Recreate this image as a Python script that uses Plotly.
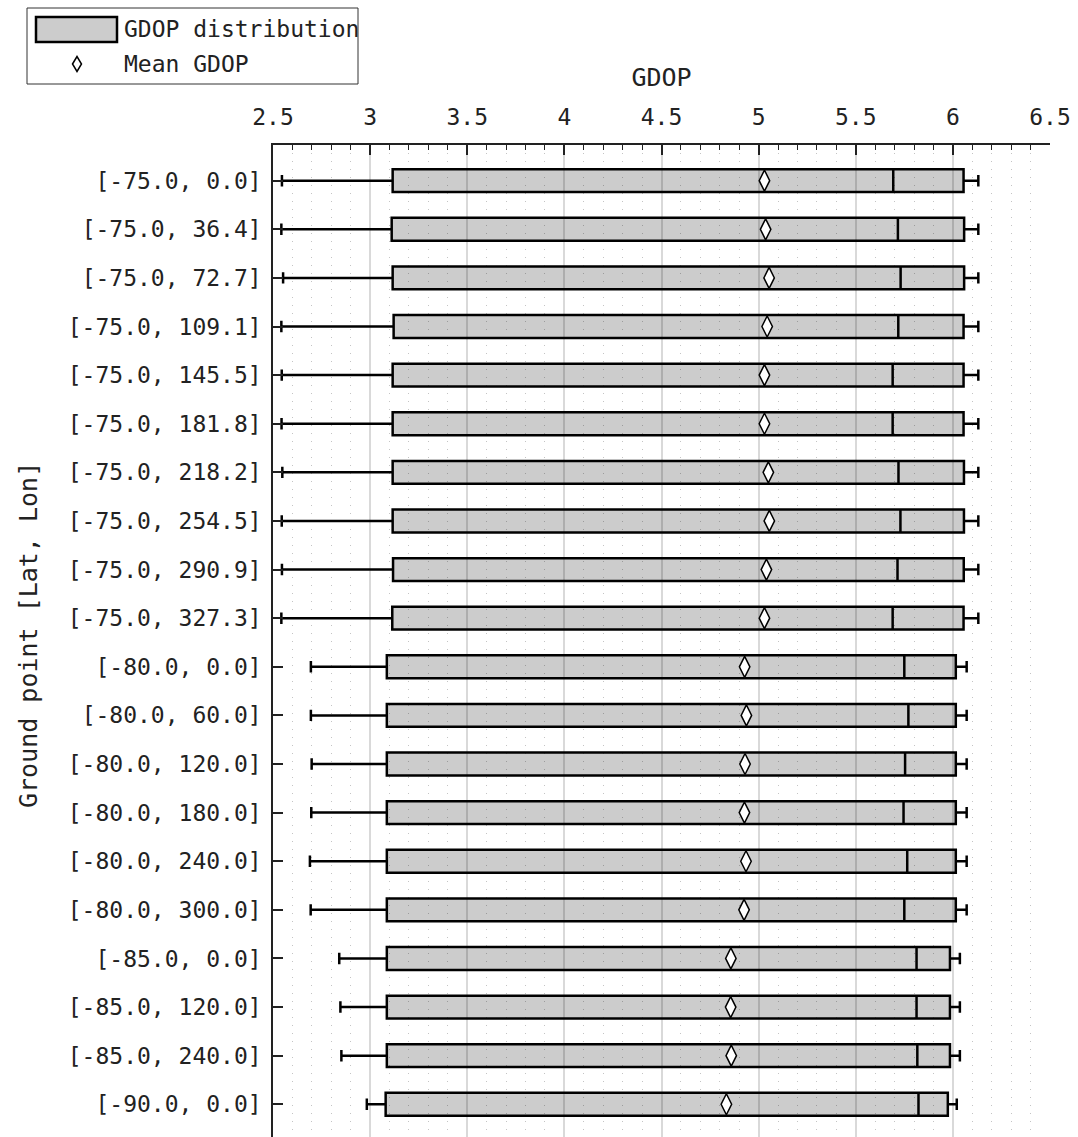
import plotly.graph_objects as go

labels = ["[-75.0, 0.0]", "[-75.0, 36.4]", "[-75.0, 72.7]", "[-75.0, 109.1]",
          "[-75.0, 145.5]", "[-75.0, 181.8]", "[-75.0, 218.2]", "[-75.0, 254.5]",
          "[-75.0, 290.9]", "[-75.0, 327.3]", "[-80.0, 0.0]", "[-80.0, 60.0]",
          "[-80.0, 120.0]", "[-80.0, 180.0]", "[-80.0, 240.0]", "[-80.0, 300.0]",
          "[-85.0, 0.0]", "[-85.0, 120.0]", "[-85.0, 240.0]", "[-90.0, 0.0]"]

gdop_min = [2.546, 2.543, 2.552, 2.543, 2.545, 2.544, 2.548, 2.545, 2.546, 2.543,
            2.695, 2.695, 2.699, 2.697, 2.690, 2.694, 2.841, 2.847, 2.852, 2.983]
gdop_q1 = [3.116, 3.111, 3.116, 3.121, 3.116, 3.116, 3.116, 3.116, 3.118, 3.114,
           3.086, 3.086, 3.086, 3.086, 3.086, 3.086, 3.086, 3.086, 3.086, 3.080]
gdop_median = [5.693, 5.717, 5.731, 5.719, 5.690, 5.690, 5.720, 5.730, 5.715, 5.690,
               5.750, 5.771, 5.754, 5.746, 5.765, 5.750, 5.813, 5.813, 5.817, 5.823]
gdop_q3 = [6.055, 6.058, 6.058, 6.055, 6.055, 6.055, 6.057, 6.057, 6.056, 6.055,
           6.015, 6.015, 6.015, 6.015, 6.015, 6.015, 5.985, 5.985, 5.985, 5.974]
gdop_max = [6.131, 6.131, 6.131, 6.131, 6.131, 6.131, 6.131, 6.131, 6.131, 6.131,
            6.071, 6.071, 6.071, 6.071, 6.071, 6.071, 6.036, 6.036, 6.036, 6.020]
gdop_mean = [5.030, 5.036, 5.054, 5.044, 5.030, 5.030, 5.050, 5.055, 5.040, 5.030,
             4.928, 4.937, 4.930, 4.927, 4.935, 4.925, 4.857, 4.856, 4.859, 4.834]

FONT = "DejaVu Sans Mono"
W, H = 1078, 1137
L, R, T, B = 273, 28, 145, 0
PW, PH = W - L - R, H - T - B


def xp(px):
    return (px - L) / PW


def yp(py):
    return (H - B - py) / PH


fig = go.Figure()

fig.add_trace(go.Box(
    y=labels, q1=gdop_q1, median=gdop_median, q3=gdop_q3,
    lowerfence=gdop_min, upperfence=gdop_max,
    orientation="h", boxpoints=False, width=0.47, whiskerwidth=0.5,
    fillcolor="rgba(0,0,0,0.2)", line=dict(color="black", width=2.5),
    name="GDOP distribution", showlegend=False, hoverinfo="x+y",
))

fig.add_trace(go.Scatter(
    x=gdop_mean, y=labels, mode="markers", name="Mean GDOP", showlegend=False,
    marker=dict(symbol="diamond-tall", size=15, color="white",
                line=dict(color="black", width=1.5)),
))

fig.update_layout(
    width=W, height=H,
    margin=dict(l=L, r=R, t=T, b=B, autoexpand=False),
    paper_bgcolor="white", plot_bgcolor="white",
    font=dict(family=FONT, size=23, color="#222"),
    showlegend=False,
    xaxis=dict(
        range=[2.5, 6.5], side="top", tick0=2.5, dtick=0.5,
        ticks="inside", ticklen=10, tickwidth=1.5, tickcolor="#222",
        showline=True, linecolor="#222", linewidth=1.5,
        showgrid=True, gridcolor="#d9d9d9", gridwidth=2,
        zeroline=False, tickfont=dict(size=23), ticklabelstandoff=9,
        title=dict(text="GDOP", font=dict(size=25), standoff=10),
        automargin=False,
        minor=dict(dtick=0.1, tick0=2.5, ticks="inside", ticklen=5, tickwidth=1,
                   tickcolor="#222", showgrid=True, gridcolor="#c4c4c4",
                   griddash="1px,7px", gridwidth=1),
    ),
    yaxis=dict(
        type="category", categoryorder="array", categoryarray=labels,
        range=[19.673, -0.734],
        ticks="inside", ticklen=10, tickwidth=1.5, tickcolor="#222",
        showline=True, linecolor="#222", linewidth=1.5,
        showgrid=False, zeroline=False, tickfont=dict(size=23),
        ticklabelstandoff=5, automargin=False,
    ),
    shapes=[
        dict(type="rect", xref="paper", yref="paper",
             x0=xp(27), x1=xp(358), y0=yp(84), y1=yp(8),
             line=dict(color="#333", width=1), fillcolor="white", layer="above"),
        dict(type="rect", xref="paper", yref="paper",
             x0=xp(36), x1=xp(117), y0=yp(42), y1=yp(17),
             line=dict(color="black", width=2.5), fillcolor="#cccccc", layer="above"),
        dict(type="path", xref="paper", yref="paper",
             path=f"M {xp(72.5)} {yp(64)} L {xp(77)} {yp(56.5)} L {xp(81.5)} {yp(64)} L {xp(77)} {yp(71.5)} Z",
             line=dict(color="black", width=1.5), fillcolor="white", layer="above"),
    ],
    annotations=[
        dict(text="GDOP distribution", xref="paper", yref="paper",
             x=xp(122), y=yp(29), xanchor="left", yanchor="middle",
             showarrow=False, font=dict(size=23)),
        dict(text="Mean GDOP", xref="paper", yref="paper",
             x=xp(122), y=yp(64), xanchor="left", yanchor="middle",
             showarrow=False, font=dict(size=23)),
        dict(text="Ground point [Lat, Lon]", xref="paper", yref="paper",
             x=xp(28), y=yp(635), xanchor="center", yanchor="middle",
             textangle=-90, showarrow=False, font=dict(size=25)),
    ],
)

fig.write_html("out.html")
